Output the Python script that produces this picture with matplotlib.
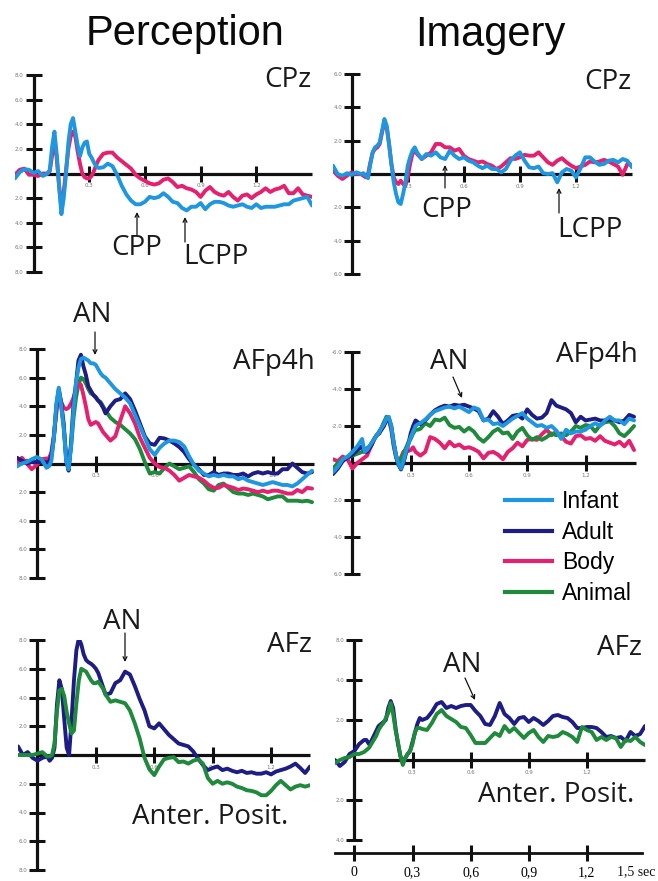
import numpy as np
import matplotlib
matplotlib.use("Agg")
import matplotlib.pyplot as plt
import matplotlib.transforms as mtransforms

W, H = 658, 881
fig = plt.figure(figsize=(W / 100, H / 100), dpi=100)

# time grid (s): coarse baseline, fine early window, coarse late window
T = np.round(np.r_[-0.1 + 0.025 * np.arange(6),
                   0.05 + 0.0125 * np.arange(24),
                   0.35 + 0.025 * np.arange(47)], 4)

# ---------------- Perception CPz ----------------
p_cpz_infant = [-0.4, 0.1, 0.35, 0.3, 0.05, 0.2,
                -0.2, -0.1, 0.0, 0.3, 2.2, 3.4, 1.5, -1.0, -3.3, -2.0, 0.0, 2.5, 4.0, 4.5, 3.4, 2.3, 1.4, 2.1, 2.5, 2.6, 1.6, 1.3, 0.9, 0.6,
                0.45, 0.5, 0.8, 0.6, -0.1, -1.0, -1.7, -2.2, -2.5, -2.5,
                -2.3, -1.9, -2.0, -1.9, -1.6, -1.9, -2.3, -2.4, -2.8, -3.0,
                -2.7, -2.7, -2.4, -2.9, -2.5, -2.3, -2.3, -2.4, -2.6, -2.7,
                -2.6, -2.5, -2.7, -2.8, -2.5, -2.8, -2.7, -2.7, -2.7, -2.6,
                -2.5, -2.5, -2.2, -2.1, -2.0, -1.9, -2.6]
p_cpz_body = [-0.1, 0.3, 0.4, -0.1, -0.1, -0.2,
              0.0, 0.0, 0.0, 0.2, 1.5, 2.8, 1.2, -1.0, -2.8, -1.5, 0.3, 2.0, 3.0, 3.4, 3.0, 1.8, 0.8, 0.0, -0.3, -0.4, -0.4, -0.2, 0.2, 0.7,
              1.1, 1.6, 1.7, 1.7, 1.3, 1.0, 0.7, 0.4, -0.1, -0.4,
              -0.6, -0.8, -0.9, -0.8, -0.5, -0.4, -0.7, -1.1, -1.0, -1.2,
              -1.3, -1.5, -1.9, -1.4, -1.1, -1.5, -1.7, -1.8, -1.5, -1.9,
              -2.2, -1.8, -1.7, -2.0, -1.7, -1.5, -1.2, -1.5, -1.3, -1.2,
              -1.0, -1.6, -1.6, -1.2, -1.7, -1.8, -1.9]

# ---------------- Imagery CPz ----------------
i_cpz_infant = [0.5, 0.0, -0.1, 0.05, -0.05, 0.1,
                0.0, 0.05, -0.1, -0.25, 0.6, 1.3, 1.6, 1.7, 1.9, 2.6, 3.3, 2.9, 1.8, 0.6, -0.5, -1.2, -1.7, -1.8, -1.2, -0.5, 0.5, 1.0, 1.4, 1.6,
                1.3, 0.9, 1.2, 1.1, 1.3, 1.0, 0.9, 1.4, 1.1, 0.9,
                1.0, 0.8, 0.7, 0.5, 0.35, 0.5, 0.3, 0.3, 0.1, 0.3,
                0.8, 1.1, 1.3, 0.8, 0.4, 0.35, 0.45, 0.05, 0.0, 0.05,
                -0.5, 0.1, 0.3, 0.2, -0.2, 0.35, 1.0, 1.0, 0.75, 0.55,
                0.6, 0.8, 0.85, 0.7, 0.9, 0.8, 0.4]
i_cpz_body = [0.2, -0.1, -0.3, -0.1, 0.1, 0.0,
              0.0, -0.1, -0.2, 0.0, 0.7, 1.3, 1.5, 1.6, 1.8, 2.5, 3.1, 2.8, 1.8, 0.6, -0.2, -0.5, -0.6, -0.4, -0.6, -0.7, -0.2, 0.6, 1.2, 1.4,
              1.2, 0.9, 1.1, 1.3, 1.8, 1.8, 1.6, 1.6, 1.4, 1.5,
              1.1, 0.9, 0.8, 0.7, 0.75, 0.6, 0.5, 0.3, 0.45, 0.7,
              0.95, 0.9, 1.0, 1.15, 1.1, 1.1, 1.3, 1.0, 0.7, 0.55,
              0.8, 0.95, 0.7, 0.5, 0.35, 0.45, 0.55, 0.75, 0.7, 0.75,
              0.85, 0.75, 0.6, 0.45, -0.05, 0.6, 0.55]

# ---------------- Perception AFp4h ----------------
p_afp_infant = [-0.2, 0.0, 0.1, 0.3, 0.45, 0.3,
                -0.3, -0.2, 0.2, 1.8, 4.2, 5.3, 4.0, 2.5, 0.2, -0.4, 1.2, 3.8, 5.6, 6.7, 7.3, 7.4, 7.3, 7.2, 7.0, 7.0, 6.9, 6.6, 6.3, 6.1,
                6.0, 5.6, 5.2, 4.9, 4.6, 4.2, 3.4, 2.6, 1.8, 1.0,
                0.6, 1.1, 1.4, 1.6, 1.6, 1.5, 1.2, 0.5, -0.1, -0.5,
                -0.7, -0.9, -0.8, -0.9, -0.8, -0.9, -0.9, -1.1, -1.0, -1.2,
                -1.3, -1.4, -1.5, -1.4, -1.3, -1.4, -1.5, -1.5, -1.6, -1.4,
                -1.1, -0.8, -0.5]
p_afp_adult = [0.4, 0.2, 0.0, 0.1, 0.1, 0.1,
               0.1, 0.1, 0.6, 1.8, 4.0, 5.2, 4.2, 2.8, 0.2, -0.5, 1.5, 4.2, 5.6, 7.2, 7.6, 6.8, 6.2, 5.4, 5.1, 4.8, 4.65, 4.4, 4.2, 3.9,
               3.5, 4.0, 4.4, 4.5, 4.9, 4.5, 3.7, 2.8, 1.9, 1.4,
               1.3, 1.8, 1.75, 1.6, 1.4, 1.15, 0.8, 0.3, -0.1, -0.4,
               -0.8, -0.8, -0.6, -0.8, -0.7, -0.7, -0.8, -0.8, -0.7, -0.9,
               -0.7, -0.6, -0.7, -0.6, -0.7, -0.7, -0.4, -0.4, 0.0, -0.3,
               -0.6, -0.7, -0.6]
p_afp_body = [0.0, 0.4, 0.0, -0.4, -0.1, 0.3,
              0.35, 0.35, 0.8, 2.0, 3.5, 5.0, 4.3, 3.9, 3.8, 3.9, 4.2, 4.6, 5.2, 5.6, 5.5, 4.8, 4.0, 3.1, 2.7, 2.8, 2.9, 2.8, 2.5, 2.2,
              2.0, 1.6, 1.9, 3.0, 4.0, 3.5, 2.8, 1.8, 1.1, 0.4,
              0.0, -0.25, -0.3, -0.5, -0.8, -1.2, -1.0, -0.8, -0.9, -1.0,
              -1.2, -1.5, -1.7, -1.7, -1.5, -1.6, -1.7, -1.85, -1.75, -1.8,
              -1.9, -2.0, -1.9, -2.0, -1.9, -1.9, -2.0, -2.1, -2.1, -1.85,
              -2.0, -1.7, -1.75]
p_afp_animal = [0.1, 0.0, 0.2, 0.1, 0.0, 0.2,
                0.0, 0.1, 0.5, 1.8, 3.8, 4.9, 4.0, 2.5, 0.5, -0.2, 1.2, 3.2, 4.6, 5.5, 6.0, 5.9, 5.6, 5.2, 4.9, 4.8, 4.6, 4.4, 4.3, 4.0,
                3.7, 3.2, 2.9, 2.7, 2.4, 2.1, 1.7, 1.0, 0.1, -0.7,
                -0.6, -0.7, -0.3, 0.0, -0.2, -0.4, -0.3, -0.2, -0.6, -1.1,
                -1.4, -1.8, -1.9, -1.5, -1.4, -1.7, -2.0, -2.1, -2.1, -2.2,
                -2.1, -2.2, -2.3, -2.5, -2.4, -2.3, -2.3, -2.6, -2.6, -2.6,
                -2.65, -2.6, -2.7]

# ---------------- Imagery AFp4h ----------------
i_afp_infant = [-0.5, -0.2, 0.2, 0.35, 0.6, 0.9,
                1.3, 0.6, 0.7, 0.9, 1.1, 1.3, 1.5, 1.65, 1.9, 2.1, 2.4, 2.5, 2.0, 1.1, 0.4, -0.05, -0.3, 0.1, 0.6, 1.0, 1.4, 1.7, 2.0, 2.1,
                2.15, 2.35, 2.6, 2.8, 2.9, 3.0, 3.05, 2.95, 3.05, 2.9,
                2.75, 3.0, 2.9, 2.3, 2.35, 2.1, 2.15, 2.0, 2.2, 2.4,
                2.55, 2.7, 2.4, 2.2, 2.0, 2.05, 1.9, 2.0, 1.75, 1.3,
                1.8, 1.6, 1.7, 1.7, 1.8, 2.0, 2.15, 2.0, 2.3, 2.5,
                2.3, 2.3, 2.1, 2.4, 2.3]
i_afp_adult = [-0.6, -0.3, 0.1, 0.3, 0.45, 0.7,
               0.9, 0.6, 0.6, 0.8, 1.0, 1.3, 1.5, 1.6, 1.8, 2.0, 2.3, 2.4, 2.0, 1.1, 0.4, -0.1, -0.35, 0.0, 0.5, 1.0, 1.6, 2.0, 2.3, 2.2,
               2.1, 2.3, 2.6, 2.85, 3.0, 3.1, 3.05, 3.15, 3.1, 3.15,
               3.05, 2.95, 2.8, 2.3, 2.4, 2.8, 2.5, 2.1, 2.3, 2.55,
               2.6, 2.4, 2.9, 2.6, 2.4, 2.45, 2.7, 3.4, 3.1, 3.0,
               2.9, 2.7, 2.2, 2.5, 2.3, 2.35, 2.4, 2.3, 2.3, 2.35,
               2.3, 2.2, 2.3, 2.6, 2.5]
i_afp_body = [0.2, 0.1, 0.35, 0.2, -0.3, 0.0,
              0.2, 0.3, 0.4, 0.7, 1.0, 1.3, 1.5, 1.6, 1.9, 2.2, 2.4, 2.3, 1.8, 0.9, 0.3, 0.0, 0.3, 0.6, 0.7, 0.65, 0.7, 0.85, 0.6, 0.5,
              0.4, 0.6, 1.4, 1.3, 1.1, 0.8, 1.15, 0.9, 1.0, 0.8,
              0.85, 0.75, 0.6, 0.25, 0.55, 0.6, 0.45, 0.2, 0.6, 0.8,
              1.1, 0.9, 1.25, 1.3, 1.25, 1.55, 1.8, 1.5, 1.7, 1.45,
              1.15, 1.05, 1.45, 1.5, 1.3, 1.35, 1.2, 1.45, 1.2, 1.1,
              1.0, 1.15, 0.9, 1.2, 0.7]
i_afp_animal = [-0.3, 0.0, 0.2, 0.3, 0.4, 0.5,
                0.6, 0.7, 0.8, 0.9, 1.1, 1.3, 1.5, 1.7, 1.9, 2.2, 2.5, 2.4, 1.9, 1.0, 0.3, -0.1, 0.2, 0.5, 0.8, 1.1, 1.3, 1.6, 1.8, 1.8,
                1.85, 2.15, 2.0, 2.35, 2.3, 2.45, 2.05, 1.9, 1.95, 1.7,
                1.9, 1.7, 1.35, 1.15, 1.4, 1.7, 1.85, 1.6, 1.65, 1.3,
                1.7, 1.9, 1.5, 1.25, 1.4, 1.25, 1.4, 1.6, 1.5, 1.6,
                1.5, 1.7, 2.0, 1.9, 2.05, 2.0, 1.7, 2.05, 2.2, 2.25,
                2.0, 1.6, 1.45, 1.7, 2.0]

# ---------------- Perception AFz ----------------
p_afz_adult = [0.6, 0.0, 0.2, -0.2, -0.4, -0.2,
               -0.1, -0.4, -0.2, 0.5, 3.5, 5.2, 4.6, 2.5, 0.5, 0.0, 2.4, 5.2, 7.3, 8.1, 7.7, 7.0, 6.6, 6.45, 6.35, 6.2, 6.0, 5.7, 5.2, 4.7,
               4.2, 4.3, 5.0, 5.2, 5.8, 5.6, 4.8, 3.9, 3.1, 2.0,
               1.85, 2.2, 1.8, 1.4, 1.1, 0.8, 0.7, 0.6, 0.25, -0.25,
               -0.7, -1.05, -0.9, -0.8, -1.05, -0.95, -1.1, -1.2, -1.1, -1.25,
               -1.2, -1.3, -1.3, -1.2, -1.35, -1.15, -1.05, -0.95, -0.8, -0.6,
               -0.9, -1.25, -0.8]
p_afz_animal = [0.0, 0.0, 0.0, 0.0, 0.1, 0.2,
                -0.1, -0.1, 0.0, 0.8, 3.0, 4.5, 4.6, 4.1, 3.0, 2.2, 1.5, 1.7, 3.6, 5.2, 6.0, 5.9, 5.8, 5.5, 5.2, 5.0, 5.0, 5.1, 4.85, 4.6,
                4.2, 3.7, 3.8, 3.7, 3.6, 3.1, 2.2, 1.15, -0.2, -1.0,
                -1.4, -0.8, -0.3, -0.2, -0.15, -0.5, -0.45, -0.6, -0.4, -0.3,
                -0.6, -1.6, -2.0, -1.8, -2.0, -1.9, -2.0, -2.2, -2.3, -2.45,
                -2.5, -2.6, -2.8, -2.8, -2.5, -2.1, -1.8, -2.1, -2.4, -2.2,
                -2.1, -2.2, -2.1]

# ---------------- Imagery AFz ----------------
i_afz_adult = [0.0, -0.3, -0.1, 0.3, 0.45, 0.8,
               1.0, 1.0, 0.8, 0.95, 1.2, 1.45, 1.7, 1.8, 1.9, 2.0, 2.6, 2.95, 2.6, 1.6, 0.8, 0.2, -0.15, 0.1, 0.3, 0.45, 0.9, 1.35, 1.8, 2.1,
               2.0, 2.1, 2.4, 2.8, 2.9, 2.6, 2.7, 2.6, 2.7, 2.75,
               2.75, 2.45, 2.2, 1.8, 1.75, 2.2, 2.85, 2.3, 2.1, 1.8,
               2.1, 2.15, 1.9, 2.1, 1.95, 1.75, 1.95, 2.2, 2.25, 2.15,
               2.1, 1.9, 1.6, 1.6, 1.65, 1.65, 1.6, 1.4, 1.15, 1.2,
               1.1, 1.15, 0.95, 1.4, 1.2, 1.3, 1.7]
i_afz_animal = [-0.15, 0.0, 0.1, 0.15, 0.3, 0.3,
                0.4, 0.5, 0.6, 0.8, 1.0, 1.2, 1.5, 1.7, 1.85, 2.1, 2.35, 2.85, 2.3, 1.5, 0.9, 0.2, -0.25, 0.1, 0.3, 0.45, 0.8, 1.4, 1.6, 1.6,
                1.55, 1.5, 1.85, 2.3, 2.5, 2.2, 2.05, 1.9, 1.65, 1.6,
                1.25, 0.85, 0.85, 0.85, 1.1, 1.35, 1.2, 1.7, 1.4, 1.6,
                1.35, 1.1, 1.35, 1.5, 1.15, 0.9, 1.2, 1.15, 1.2, 1.4,
                1.3, 1.15, 0.9, 1.65, 1.5, 1.4, 1.0, 1.15, 1.0, 1.15,
                1.1, 0.65, 1.0, 0.95, 1.15, 0.9, 0.75]

conditions = ["Infant", "Adult", "Body", "Animal"]
colors = {"Infant": "#1f97e0", "Adult": "#1d1d85", "Body": "#e5206f", "Animal": "#1f8a3b"}
x_ticks = [0.3, 0.6, 0.9, 1.2]
x_tick_labels = ["0.3", "0.6", "0.9", "1.2"]
time_ticks = [0, 0.3, 0.6, 0.9, 1.2]
time_tick_labels = ["0", "0,3", "0,6", "0,9", "1,2"]

LINE_FONT = "Open Sans"
AX = "#111111"
LW = 2.8


def px_axes(x0, x1, y0, y1):
    return fig.add_axes([x0 / W, 1 - y1 / H, (x1 - x0) / W, (y1 - y0) / H])


def setup(ax, xlim, ylim, yticks, ylabels):
    ax.set_xlim(*xlim)
    ax.set_ylim(*ylim)
    ax.patch.set_alpha(0)
    for s in ["top", "right"]:
        ax.spines[s].set_visible(False)
    ax.spines["left"].set_position(("data", 0))
    ax.spines["bottom"].set_position(("data", 0))
    ax.spines["left"].set_bounds(*ylim)
    ax.spines["bottom"].set_bounds(0, xlim[1])
    for s in ["left", "bottom"]:
        ax.spines[s].set_linewidth(2.3)
        ax.spines[s].set_color(AX)
        ax.spines[s].set_capstyle("butt")
    ax.set_yticks(yticks)
    ax.set_yticklabels(ylabels)
    ax.set_xticks(x_ticks)
    ax.set_xticklabels(x_tick_labels)
    ax.tick_params(direction="inout", length=12, width=2.2, color=AX,
                   labelsize=4, labelcolor="#777777", pad=1)


def draw(ax, series):
    for name, vals in series:
        ax.plot(T[:len(vals)], vals, color=colors[name], lw=LW,
                solid_joinstyle="round", solid_capstyle="round", zorder=3)


yt8 = [-8, -6, -4, -2, 2, 4, 6, 8]
yl8 = ["8.0", "6.0", "4.0", "2.0", "2.0", "4.0", "6.0", "8.0"]
yt6 = [-6, -4, -2, 2, 4, 6]
yl6 = ["6.0", "4.0", "2.0", "2.0", "4.0", "6.0"]

# Panel 1: Perception CPz
ax1 = px_axes(15, 312, 75, 272)
setup(ax1, (-0.1, 1.5), (-8, 8), yt8, yl8)
draw(ax1, [("Body", p_cpz_body), ("Infant", p_cpz_infant)])

# Panel 2: Imagery CPz
ax2 = px_axes(333, 632, 74, 274)
setup(ax2, (-0.1, 1.5), (-6, 6), yt6, yl6)
draw(ax2, [("Body", i_cpz_body), ("Infant", i_cpz_infant)])

# Panel 3: Perception AFp4h
ax3 = px_axes(17, 314, 349, 578)
setup(ax3, (-0.1, 1.41), (-8, 8), yt8, yl8)
draw(ax3, [("Animal", p_afp_animal), ("Body", p_afp_body),
           ("Adult", p_afp_adult), ("Infant", p_afp_infant)])

# Panel 4: Imagery AFp4h
ax4 = px_axes(333, 636, 352, 574)
setup(ax4, (-0.1, 1.46), (-6, 6), yt6, ["6.0", "4.0", "2.0", "-2.0", "-4.0", "-6.0"])
draw(ax4, [("Body", i_afp_body), ("Animal", i_afp_animal),
           ("Adult", i_afp_adult), ("Infant", i_afp_infant)])

# Panel 5: Perception AFz
ax5 = px_axes(18, 310, 640, 870)
setup(ax5, (-0.1, 1.4), (-8, 8), yt8, yl8)
draw(ax5, [("Adult", p_afz_adult), ("Animal", p_afz_animal)])

# Panel 6: Imagery AFz
ax6 = px_axes(335, 645, 640, 840)
setup(ax6, (-0.1, 1.5), (-4, 6), [-4, -2, 2, 4, 6], ["4.0", "2.0", "2.0", "4.0", "8.0"])
draw(ax6, [("Adult", i_afz_adult), ("Animal", i_afz_animal)])

# shared time axis (imagery column)
axt = px_axes(335, 645, 833, 853)
axt.set_xlim(-0.1, 1.5)
axt.set_ylim(0, 1)
axt.patch.set_alpha(0)
for s in ["top", "right", "left"]:
    axt.spines[s].set_visible(False)
axt.spines["bottom"].set_bounds(-0.1, 1.485)
axt.spines["bottom"].set_linewidth(2.0)
axt.spines["bottom"].set_color(AX)
axt.set_yticks([])
axt.set_xticks(time_ticks)
axt.set_xticklabels(time_tick_labels, family="Liberation Serif", fontsize=10)
axt.tick_params(axis="x", direction="inout", length=11, width=2.2, color=AX, pad=4)
off = mtransforms.offset_copy(axt.get_xaxis_transform(), fig=fig, x=10, y=-12.5, units="dots")
axt.text(1.5, 0, "1,5 sec", transform=off, ha="right", va="top",
         family="Liberation Serif", fontsize=10, color="#111111")

# legend built from the condition colours
handles = [plt.Line2D([], [], color=colors[c], lw=3) for c in conditions]
fig.legend(handles, conditions, loc="upper left",
           bbox_to_anchor=(505 / W, 1 - 490 / H), frameon=False,
           prop={"family": "Liberation Sans", "size": 16.5},
           handlelength=2.05, handletextpad=0.45, labelspacing=0.33,
           borderpad=0, borderaxespad=0)

# overlay for titles and annotations (pixel coordinates)
ov = fig.add_axes([0, 0, 1, 1])
ov.set_xlim(0, W)
ov.set_ylim(H, 0)
ov.axis("off")

ov.text(185, 45, "Perception", ha="center", va="baseline",
        family="Liberation Sans", fontsize=30, color="#0a0a0a")
ov.text(490, 46, "Imagery", ha="center", va="baseline",
        family="Liberation Sans", fontsize=30, color="#0a0a0a")

lab = dict(family=LINE_FONT, fontsize=20, color="#1a1a1a")
for x, y, s in [(312, 80, "CPz"), (632, 82, "CPz"), (315, 362, "AFp4h"),
                (638, 355, "AFp4h"), (312, 645, "AFz"), (642, 648, "AFz")]:
    ov.text(x, y, s, ha="right", va="center", **lab)

for x, y, s in [(137, 248, "CPP"), (216, 257, "LCPP"), (447, 210, "CPP"),
                (590, 230, "LCPP"), (92, 315, "AN"), (449, 362, "AN"),
                (122, 622, "AN"), (462, 665, "AN"),
                (210, 817, "Anter. Posit."), (556, 795, "Anter. Posit.")]:
    ov.text(x, y, s, ha="center", va="center", **lab)

arrow = dict(arrowstyle="->", lw=0.9, color="#111111", mutation_scale=7,
             shrinkA=0, shrinkB=0)
for (x0, y0), (x1, y1) in [((137, 235), (137, 212)), ((185, 242), (185, 217)),
                           ((445, 188), (445, 165)), ((559, 213), (559, 188)),
                           ((95, 332), (95, 355)), ((453, 377), (462, 398)),
                           ((125, 633), (125, 662)), ((465, 678), (475, 700))]:
    ov.annotate("", xy=(x1, y1), xytext=(x0, y0), arrowprops=arrow)

fig.savefig("out.png", dpi=100)
